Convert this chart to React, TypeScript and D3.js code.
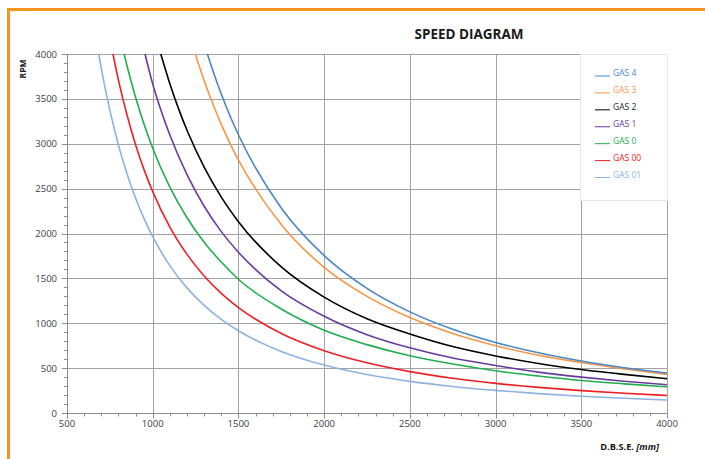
import { useRef, useEffect } from "react";
import * as d3 from "d3";

const WIDTH = 705;
const HEIGHT = 459;

// D.B.S.E. [mm] / RPM pairs
const GAS4_D = [1319, 1350, 1400, 1450, 1500, 1750, 2000, 2250, 2500, 2750, 3000, 3250, 3500, 3750, 4000];
const GAS4_RPM = [4000, 3820, 3554, 3315, 3100, 2284, 1754, 1389, 1127, 933, 786, 671, 579, 505, 445];

const GAS3_D = [1248, 1300, 1350, 1400, 1450, 1500, 1750, 2000, 2250, 2500, 2750, 3000, 3250, 3500, 3750, 4000];
const GAS3_RPM = [4000, 3705, 3448, 3216, 3008, 2819, 2100, 1622, 1299, 1063, 886, 750, 644, 562, 490, 430];

const GAS2_D = [1047, 1100, 1150, 1200, 1300, 1400, 1500, 1750, 2000, 2250, 2500, 2750, 3000, 3250, 3500, 3750, 4000];
const GAS2_RPM = [4000, 3669, 3394, 3150, 2739, 2406, 2132, 1628, 1291, 1050, 880, 740, 636, 552, 485, 430, 383];

const GAS1_D = [955, 1000, 1050, 1100, 1200, 1300, 1400, 1500, 1750, 2000, 2250, 2500, 2750, 3000, 3250, 3500, 3750, 4000];
const GAS1_RPM = [4000, 3666, 3362, 3097, 2655, 2304, 2021, 1792, 1361, 1078, 873, 726, 612, 530, 455, 400, 353, 315];

const GAS0_D = [833, 850, 900, 950, 1000, 1100, 1200, 1300, 1400, 1500, 1750, 2000, 2250, 2500, 2750, 3000, 3250, 3500, 3750, 4000];
const GAS0_RPM = [4000, 3869, 3518, 3214, 2950, 2516, 2176, 1903, 1682, 1490, 1159, 922, 762, 637, 545, 470, 412, 362, 325, 292];

const GAS00_D = [768, 800, 850, 900, 950, 1000, 1100, 1200, 1300, 1400, 1500, 1750, 2000, 2250, 2500, 2750, 3000, 3250, 3500, 3750, 4000];
const GAS00_RPM = [4000, 3709, 3320, 2990, 2709, 2466, 2071, 1767, 1526, 1332, 1174, 886, 694, 559, 461, 387, 330, 285, 249, 220, 195];

const GAS01_D = [685, 700, 750, 800, 850, 900, 950, 1000, 1100, 1200, 1300, 1400, 1500, 1750, 2000, 2250, 2500, 2750, 3000, 3250, 3500, 3750, 4000];
const GAS01_RPM = [4000, 3840, 3373, 2987, 2666, 2394, 2163, 1964, 1642, 1394, 1199, 1043, 916, 686, 534, 428, 352, 296, 252, 216, 187, 164, 145];

const SERIES_NAMES = ["GAS 4", "GAS 3", "GAS 2", "GAS 1", "GAS 0", "GAS 00", "GAS 01"];
const SERIES_D = [GAS4_D, GAS3_D, GAS2_D, GAS1_D, GAS0_D, GAS00_D, GAS01_D];
const SERIES_RPM = [GAS4_RPM, GAS3_RPM, GAS2_RPM, GAS1_RPM, GAS0_RPM, GAS00_RPM, GAS01_RPM];

const X_TICKS = [500, 1000, 1500, 2000, 2500, 3000, 3500, 4000];
const Y_TICKS = [0, 500, 1000, 1500, 2000, 2500, 3000, 3500, 4000];

const COLORS: Record<string, string> = {
  "GAS 4": "#4a86c8",
  "GAS 3": "#f79646",
  "GAS 2": "#000000",
  "GAS 1": "#6a3a9c",
  "GAS 0": "#1fae4e",
  "GAS 00": "#ee2024",
  "GAS 01": "#8db3e2",
};

const FONT = "'Open Sans', 'DejaVu Sans', sans-serif";

export default function App() {
  const svgRef = useRef<SVGSVGElement>(null);

  useEffect(() => {
    if (!svgRef.current) return;
    const svg = d3.select(svgRef.current);
    svg.selectAll("*").remove();

    const x = d3.scaleLinear().domain([500, 4000]).range([67, 667]);
    const y = d3.scaleLinear().domain([0, 4000]).range([413, 54]);

    svg.append("rect").attr("width", WIDTH).attr("height", HEIGHT).attr("fill", "#fff");

    // orange frame
    svg
      .append("path")
      .attr("d", `M8.5,${HEIGHT} L8.5,9.5 L${WIDTH},9.5`)
      .attr("fill", "none")
      .attr("stroke", "#f7941d")
      .attr("stroke-width", 3);

    // title
    svg
      .append("text")
      .attr("x", 469)
      .attr("y", 39)
      .attr("text-anchor", "middle")
      .attr("font-family", FONT)
      .attr("font-weight", "bold")
      .attr("font-size", "13.5px")
      .attr("fill", "#1a1a1a")
      .text("SPEED DIAGRAM");

    const grid = svg.append("g").attr("stroke", "#a3a3a3").attr("stroke-width", 1);

    // horizontal grid
    grid
      .selectAll(".hg")
      .data(Y_TICKS.filter((d) => d > 0))
      .enter()
      .append("line")
      .attr("x1", x(500))
      .attr("x2", x(4000))
      .attr("y1", (d) => Math.round(y(d)) + 0.5)
      .attr("y2", (d) => Math.round(y(d)) + 0.5);

    // vertical grid
    grid
      .selectAll(".vg")
      .data(X_TICKS.filter((d) => d > 500))
      .enter()
      .append("line")
      .attr("x1", (d) => Math.round(x(d)) + 0.5)
      .attr("x2", (d) => Math.round(x(d)) + 0.5)
      .attr("y1", y(0))
      .attr("y2", y(4000));

    // curves
    const line = d3
      .line<[number, number]>()
      .x((d) => x(d[0]))
      .y((d) => y(d[1]))
      .curve(d3.curveMonotoneX);

    SERIES_NAMES.slice()
      .reverse()
      .forEach((name) => {
        const i = SERIES_NAMES.indexOf(name);
        const pts: [number, number][] = SERIES_D[i].map((d, j) => [d, SERIES_RPM[i][j]]);
        svg
          .append("path")
          .attr("d", line(pts) || "")
          .attr("fill", "none")
          .attr("stroke", COLORS[name])
          .attr("stroke-width", 1.6);
      });

    // axes
    const axisColor = "#8c8c8c";
    const axes = svg.append("g").attr("stroke", axisColor).attr("stroke-width", 1);
    axes
      .append("line")
      .attr("x1", 67.5)
      .attr("x2", 67.5)
      .attr("y1", y(4000))
      .attr("y2", y(0) + 0.5);
    axes
      .append("line")
      .attr("x1", 67)
      .attr("x2", 667.5)
      .attr("y1", 413.5)
      .attr("y2", 413.5);

    const yMinor = d3.range(0, 4001, 100);
    axes
      .selectAll(".ymt")
      .data(yMinor)
      .enter()
      .append("line")
      .attr("x1", (d) => (d % 500 === 0 ? 62 : 64))
      .attr("x2", 67.5)
      .attr("y1", (d) => Math.round(y(d)) + 0.5)
      .attr("y2", (d) => Math.round(y(d)) + 0.5);

    const xMinor = d3.range(500, 4001, 100);
    axes
      .selectAll(".xmt")
      .data(xMinor)
      .enter()
      .append("line")
      .attr("x1", (d) => Math.round(x(d)) + 0.5)
      .attr("x2", (d) => Math.round(x(d)) + 0.5)
      .attr("y1", 413.5)
      .attr("y2", (d) => (d % 500 === 0 ? 418.5 : 416.5));

    // tick labels
    svg
      .selectAll(".yl")
      .data(Y_TICKS)
      .enter()
      .append("text")
      .attr("x", 57)
      .attr("y", (d) => y(d) + 3.5)
      .attr("text-anchor", "end")
      .attr("font-family", FONT)
      .attr("font-size", "9.5px")
      .attr("fill", "#404040")
      .text((d) => d);

    svg
      .selectAll(".xl")
      .data(X_TICKS)
      .enter()
      .append("text")
      .attr("x", (d) => x(d))
      .attr("y", 427)
      .attr("text-anchor", "middle")
      .attr("font-family", FONT)
      .attr("font-size", "9.5px")
      .attr("fill", "#404040")
      .text((d) => d);

    // axis titles
    svg
      .append("text")
      .attr("transform", "translate(26, 69) rotate(-90)")
      .attr("text-anchor", "middle")
      .attr("font-family", FONT)
      .attr("font-weight", "bold")
      .attr("font-size", "8.5px")
      .attr("fill", "#1a1a1a")
      .text("RPM");

    const xt = svg
      .append("text")
      .attr("x", 659)
      .attr("y", 450)
      .attr("text-anchor", "end")
      .attr("font-family", FONT)
      .attr("font-weight", "bold")
      .attr("font-size", "9.2px")
      .attr("fill", "#1a1a1a");
    xt.append("tspan").text("D.B.S.E. ");
    xt.append("tspan").attr("font-style", "italic").text("[mm]");

    // legend
    const legend = svg.append("g");
    legend
      .append("rect")
      .attr("x", 580.5)
      .attr("y", 54.5)
      .attr("width", 87)
      .attr("height", 146)
      .attr("fill", "#fff")
      .attr("stroke", "#e6e6e6");

    const ly = d3.scalePoint<string>().domain(SERIES_NAMES).range([76, 177.5]);
    SERIES_NAMES.forEach((name) => {
      const yy = ly(name) || 0;
      legend
        .append("line")
        .attr("x1", 595)
        .attr("x2", 610)
        .attr("y1", yy)
        .attr("y2", yy)
        .attr("stroke", COLORS[name])
        .attr("stroke-width", 1);
      legend
        .append("text")
        .attr("x", 613)
        .attr("y", yy)
        .attr("font-family", FONT)
        .attr("font-size", "8.5px")
        .attr("fill", name === "GAS 2" ? "#262626" : COLORS[name])
        .text(name);
    });
  }, []);

  return (
    <svg
      ref={svgRef}
      width={WIDTH}
      height={HEIGHT}
      style={{ position: "absolute", left: 0, top: 0 }}
    />
  );
}
